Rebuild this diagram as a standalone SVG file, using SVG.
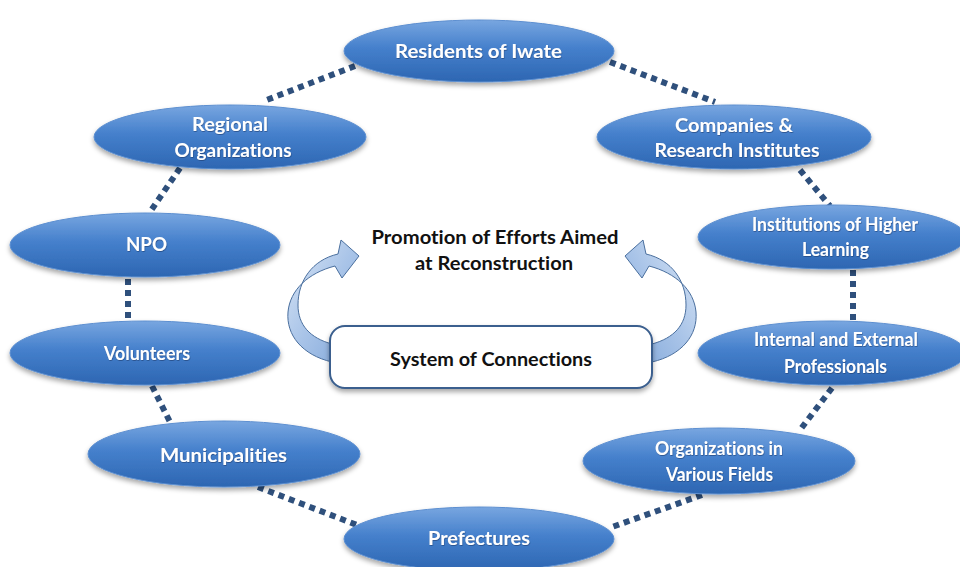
<svg xmlns="http://www.w3.org/2000/svg" width="960" height="567" viewBox="0 0 960 567">
<defs>
<linearGradient id="eg" x1="0" y1="0" x2="0" y2="1">
<stop offset="0" stop-color="#78a6e0"/>
<stop offset="0.45" stop-color="#4580cc"/>
<stop offset="1" stop-color="#2d66b2"/>
</linearGradient>
<linearGradient id="ag" x1="0" y1="0" x2="1" y2="1">
<stop offset="0" stop-color="#dbe7f6"/>
<stop offset="0.5" stop-color="#a9c4e8"/>
<stop offset="1" stop-color="#7fa6d9"/>
</linearGradient>
<filter id="sh" x="-20%" y="-30%" width="140%" height="170%">
<feDropShadow dx="0" dy="3" stdDeviation="2.5" flood-color="#000" flood-opacity="0.35"/>
</filter>
<filter id="ts" x="-10%" y="-30%" width="120%" height="160%">
<feDropShadow dx="0.5" dy="1" stdDeviation="0.6" flood-color="#1a3d6e" flood-opacity="0.6"/>
</filter>
</defs>
<style>
.node ellipse{fill:url(#eg);stroke:#5d8fd0;stroke-width:1;filter:url(#sh)}
.node text{fill:#fff;font-family:Lato,"Open Sans","Liberation Sans",sans-serif;font-weight:bold;font-size:18px;text-anchor:middle;font-variant-ligatures:none;filter:url(#ts)}
.conn line{stroke:#2f507c;stroke-width:6;stroke-dasharray:6 5}
.ctext{fill:#111;font-family:Lato,"Open Sans","Liberation Sans",sans-serif;font-weight:bold;font-size:18.5px;text-anchor:middle;font-variant-ligatures:none}
.arrow{fill:url(#ag);stroke:#4a6f9e;stroke-width:1}
</style>
<rect width="960" height="567" fill="#fff"/>
<g id="connectors" class="conn">
<line x1="355" y1="66" x2="264" y2="101"/>
<line x1="610" y1="62" x2="715" y2="102"/>
<line x1="180" y1="168" x2="150" y2="212"/>
<line x1="800" y1="170" x2="830" y2="206"/>
<line x1="128" y1="279" x2="128" y2="320"/>
<line x1="853" y1="270" x2="853" y2="320"/>
<line x1="152" y1="386" x2="170" y2="422"/>
<line x1="832" y1="388" x2="800" y2="430"/>
<line x1="258" y1="487" x2="357" y2="525"/>
<line x1="702" y1="495" x2="612" y2="527"/>
</g>
<g id="center-arrows">
<path id="la" class="arrow" d="M 332,362 C 302,355 286,335 288,312 C 290,290 308,273 335,266 L 342,278 L 359,256 L 341,240 L 338,254 C 312,260 298,281 298,305 C 298,325 310,338 332,344 Z"/>
<use href="#la" transform="translate(984,0) scale(-1,1)"/>
</g>
<g id="center-box">
<rect x="330" y="326" width="322" height="62" rx="15" fill="#fff" stroke="#3b5f8e" stroke-width="2" filter="url(#sh)"/>
<text class="ctext" x="491" y="366" textLength="202" lengthAdjust="spacingAndGlyphs">System of Connections</text>
</g>
<g id="center-label">
<text class="ctext" x="495" y="244" textLength="247" lengthAdjust="spacingAndGlyphs">Promotion of Efforts Aimed</text>
<text class="ctext" x="494" y="270" textLength="158" lengthAdjust="spacingAndGlyphs">at Reconstruction</text>
</g>
<g id="residents" class="node"><ellipse cx="479" cy="51" rx="135" ry="31"/><text x="478.5" y="58" textLength="167" lengthAdjust="spacingAndGlyphs">Residents of Iwate</text></g>
<g id="regional" class="node"><ellipse cx="230" cy="137" rx="136" ry="32"/><text x="230" y="131" textLength="76" lengthAdjust="spacingAndGlyphs">Regional</text><text x="233" y="157" textLength="117" lengthAdjust="spacingAndGlyphs">Organizations</text></g>
<g id="companies" class="node"><ellipse cx="734" cy="137" rx="137" ry="32"/><text x="734" y="131.5" textLength="118" lengthAdjust="spacingAndGlyphs">Companies &amp;</text><text x="737" y="157" textLength="165" lengthAdjust="spacingAndGlyphs">Research Institutes</text></g>
<g id="npo" class="node"><ellipse cx="145" cy="245" rx="135" ry="32"/><text x="146.5" y="251" textLength="41" lengthAdjust="spacingAndGlyphs">NPO</text></g>
<g id="institutions" class="node"><ellipse cx="832" cy="237" rx="134" ry="32"/><text x="835" y="231" textLength="166" lengthAdjust="spacingAndGlyphs">Institutions of Higher</text><text x="835.5" y="256" textLength="67" lengthAdjust="spacingAndGlyphs">Learning</text></g>
<g id="volunteers" class="node"><ellipse cx="145" cy="353" rx="135" ry="32"/><text x="147" y="360" textLength="86" lengthAdjust="spacingAndGlyphs">Volunteers</text></g>
<g id="professionals" class="node"><ellipse cx="832" cy="353" rx="134" ry="32"/><text x="836" y="346" textLength="164" lengthAdjust="spacingAndGlyphs">Internal and External</text><text x="835.5" y="373" textLength="103" lengthAdjust="spacingAndGlyphs">Professionals</text></g>
<g id="municipalities" class="node"><ellipse cx="224" cy="454" rx="136" ry="33"/><text x="223.5" y="462" textLength="127" lengthAdjust="spacingAndGlyphs">Municipalities</text></g>
<g id="organizations" class="node"><ellipse cx="719" cy="461" rx="136" ry="33"/><text x="719" y="455" textLength="128" lengthAdjust="spacingAndGlyphs">Organizations in</text><text x="719.5" y="481" textLength="107" lengthAdjust="spacingAndGlyphs">Various Fields</text></g>
<g id="prefectures" class="node"><ellipse cx="479" cy="539" rx="135" ry="32"/><text x="479" y="545" textLength="102" lengthAdjust="spacingAndGlyphs">Prefectures</text></g>
</svg>
